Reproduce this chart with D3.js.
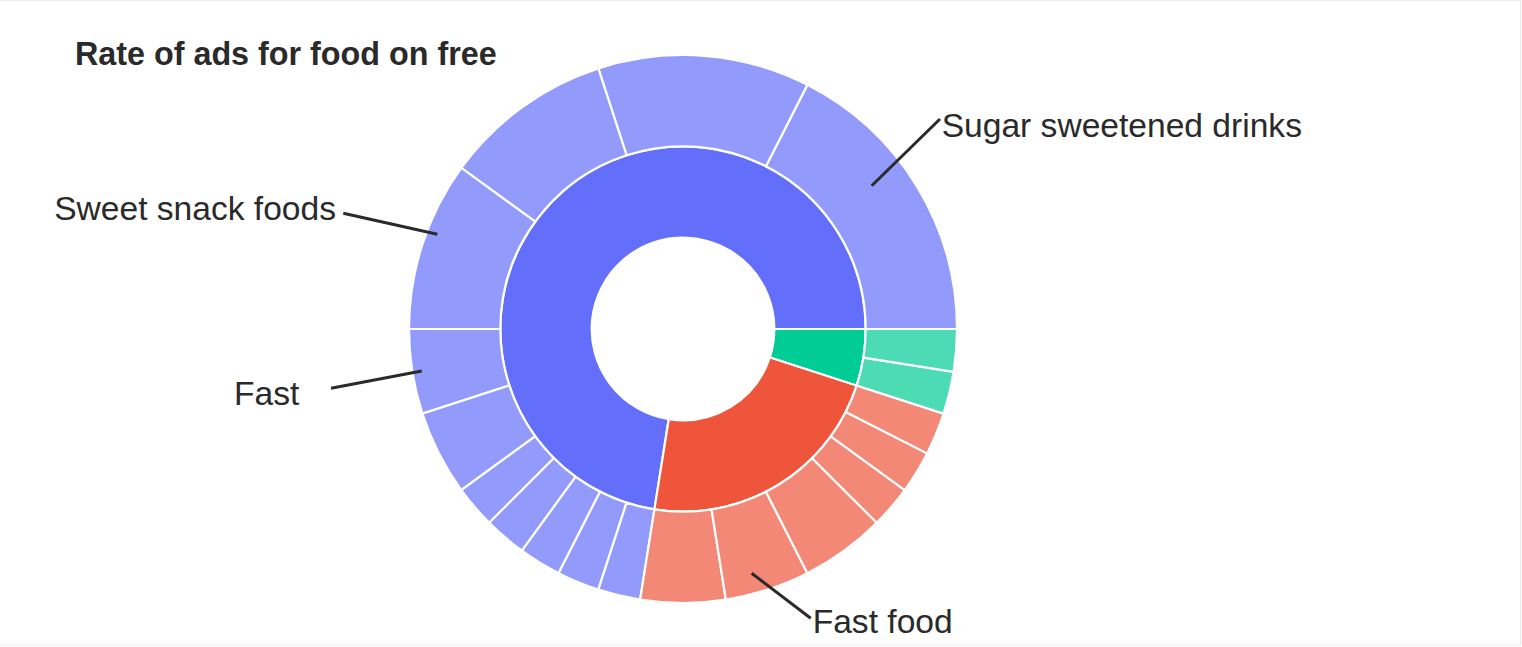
<!DOCTYPE html>
<html>
<head>
<meta charset="utf-8">
<script src="https://cdn.jsdelivr.net/npm/d3@7"></script>
<style>
  html, body { margin: 0; padding: 0; background: #fff; }
  svg { display: block; }
</style>
</head>
<body>
<svg id="chart" width="1522" height="647"></svg>
<script>
// ---- data ----
const titleText = "Rate of ads for food on free";
const categories = ["Unhealthy food", "Fast food chains", "Healthy food"];
const categoryColors = ["#636efa", "#EF553B", "#00cc96"];
const blueChildren = [7, 5, 4, 4, 2, 2, 1, 1, 1, 1, 1];
const redChildren = [2, 2, 2, 1, 1, 1];
const greenChildren = [1, 1];
const childValues = [blueChildren, redChildren, greenChildren];
const annotationLabels = ["Sugar sweetened drinks", "Sweet snack foods", "Fast", "Fast food"];

// ---- layout ----
const W = 1522, H = 647;
const cx = 683, cy = 329, R = 274;
const svg = d3.select("#chart");

// faint frame
svg.append("rect").attr("x", -1).attr("y", 0.5).attr("width", 1521.5).attr("height", 644.5)
  .attr("fill", "none").attr("stroke", "#ececec").attr("stroke-width", 1);

const rootData = {
  name: "root",
  children: categories.map((c, i) => ({
    name: c, ci: i,
    children: childValues[i].map((v, j) => ({ name: c + " " + (j + 1), ci: i, value: v }))
  }))
};

const root = d3.hierarchy(rootData).sum(d => d.value || 0);
d3.partition().size([1, 3])(root);

const angle = d3.scaleLinear().domain([0, 1]).range([Math.PI / 2, Math.PI / 2 - 2 * Math.PI]);
const radius = d3.scaleLinear().domain([0, 3]).range([0, R]);

const arc = d3.arc()
  .startAngle(d => angle(d.x0))
  .endAngle(d => angle(d.x1))
  .innerRadius(d => radius(d.y0))
  .outerRadius(d => radius(d.y1));

const g = svg.append("g").attr("transform", `translate(${cx},${cy})`);

function fillFor(d) {
  const base = d3.rgb(categoryColors[d.data.ci]);
  if (d.depth === 1) return base.formatHex();
  const a = 0.7;
  return d3.rgb(base.r * a + 255 * (1 - a), base.g * a + 255 * (1 - a), base.b * a + 255 * (1 - a)).formatHex();
}

g.selectAll("path.seg")
  .data(root.descendants().filter(d => d.depth > 0))
  .join("path")
  .attr("class", "seg")
  .attr("d", arc)
  .attr("fill", fillFor)
  .attr("stroke", "#ffffff")
  .attr("stroke-width", 2.2);

// ---- annotations (layout, relative to centre) ----
const annotations = [
  { label: annotationLabels[0], p0: [188.7, -143.3], p1: [257, -210], t: [258.7, -192.3], anchor: "start" },
  { label: annotationLabels[1], p0: [-245.7, -94.7], p1: [-339.7, -115.7], t: [-347, -109], anchor: "end" },
  { label: annotationLabels[2], p0: [-261.3, 42], p1: [-352, 59.3], t: [-383.7, 76], anchor: "end" },
  { label: annotationLabels[3], p0: [68.7, 244.3], p1: [127.7, 289.3], t: [129.7, 304.3], anchor: "start" }
];

const ann = svg.append("g").attr("transform", `translate(${cx},${cy})`);
ann.selectAll("line")
  .data(annotations)
  .join("line")
  .attr("x1", d => d.p0[0]).attr("y1", d => d.p0[1])
  .attr("x2", d => d.p1[0]).attr("y2", d => d.p1[1])
  .attr("stroke", "#2a2a2a").attr("stroke-width", 3);

ann.selectAll("text")
  .data(annotations)
  .join("text")
  .attr("x", d => d.t[0]).attr("y", d => d.t[1])
  .attr("text-anchor", d => d.anchor)
  .attr("font-family", "'Liberation Sans', Arial, Helvetica, sans-serif")
  .attr("font-size", 33.6)
  .attr("fill", "#2a2a2a")
  .text(d => d.label);

svg.append("text")
  .attr("x", 75).attr("y", 65)
  .attr("font-family", "'Liberation Sans', Arial, Helvetica, sans-serif")
  .attr("font-size", 32.3)
  .attr("font-weight", "bold")
  .attr("fill", "#2a2a2a")
  .text(titleText);
</script>
</body>
</html>
